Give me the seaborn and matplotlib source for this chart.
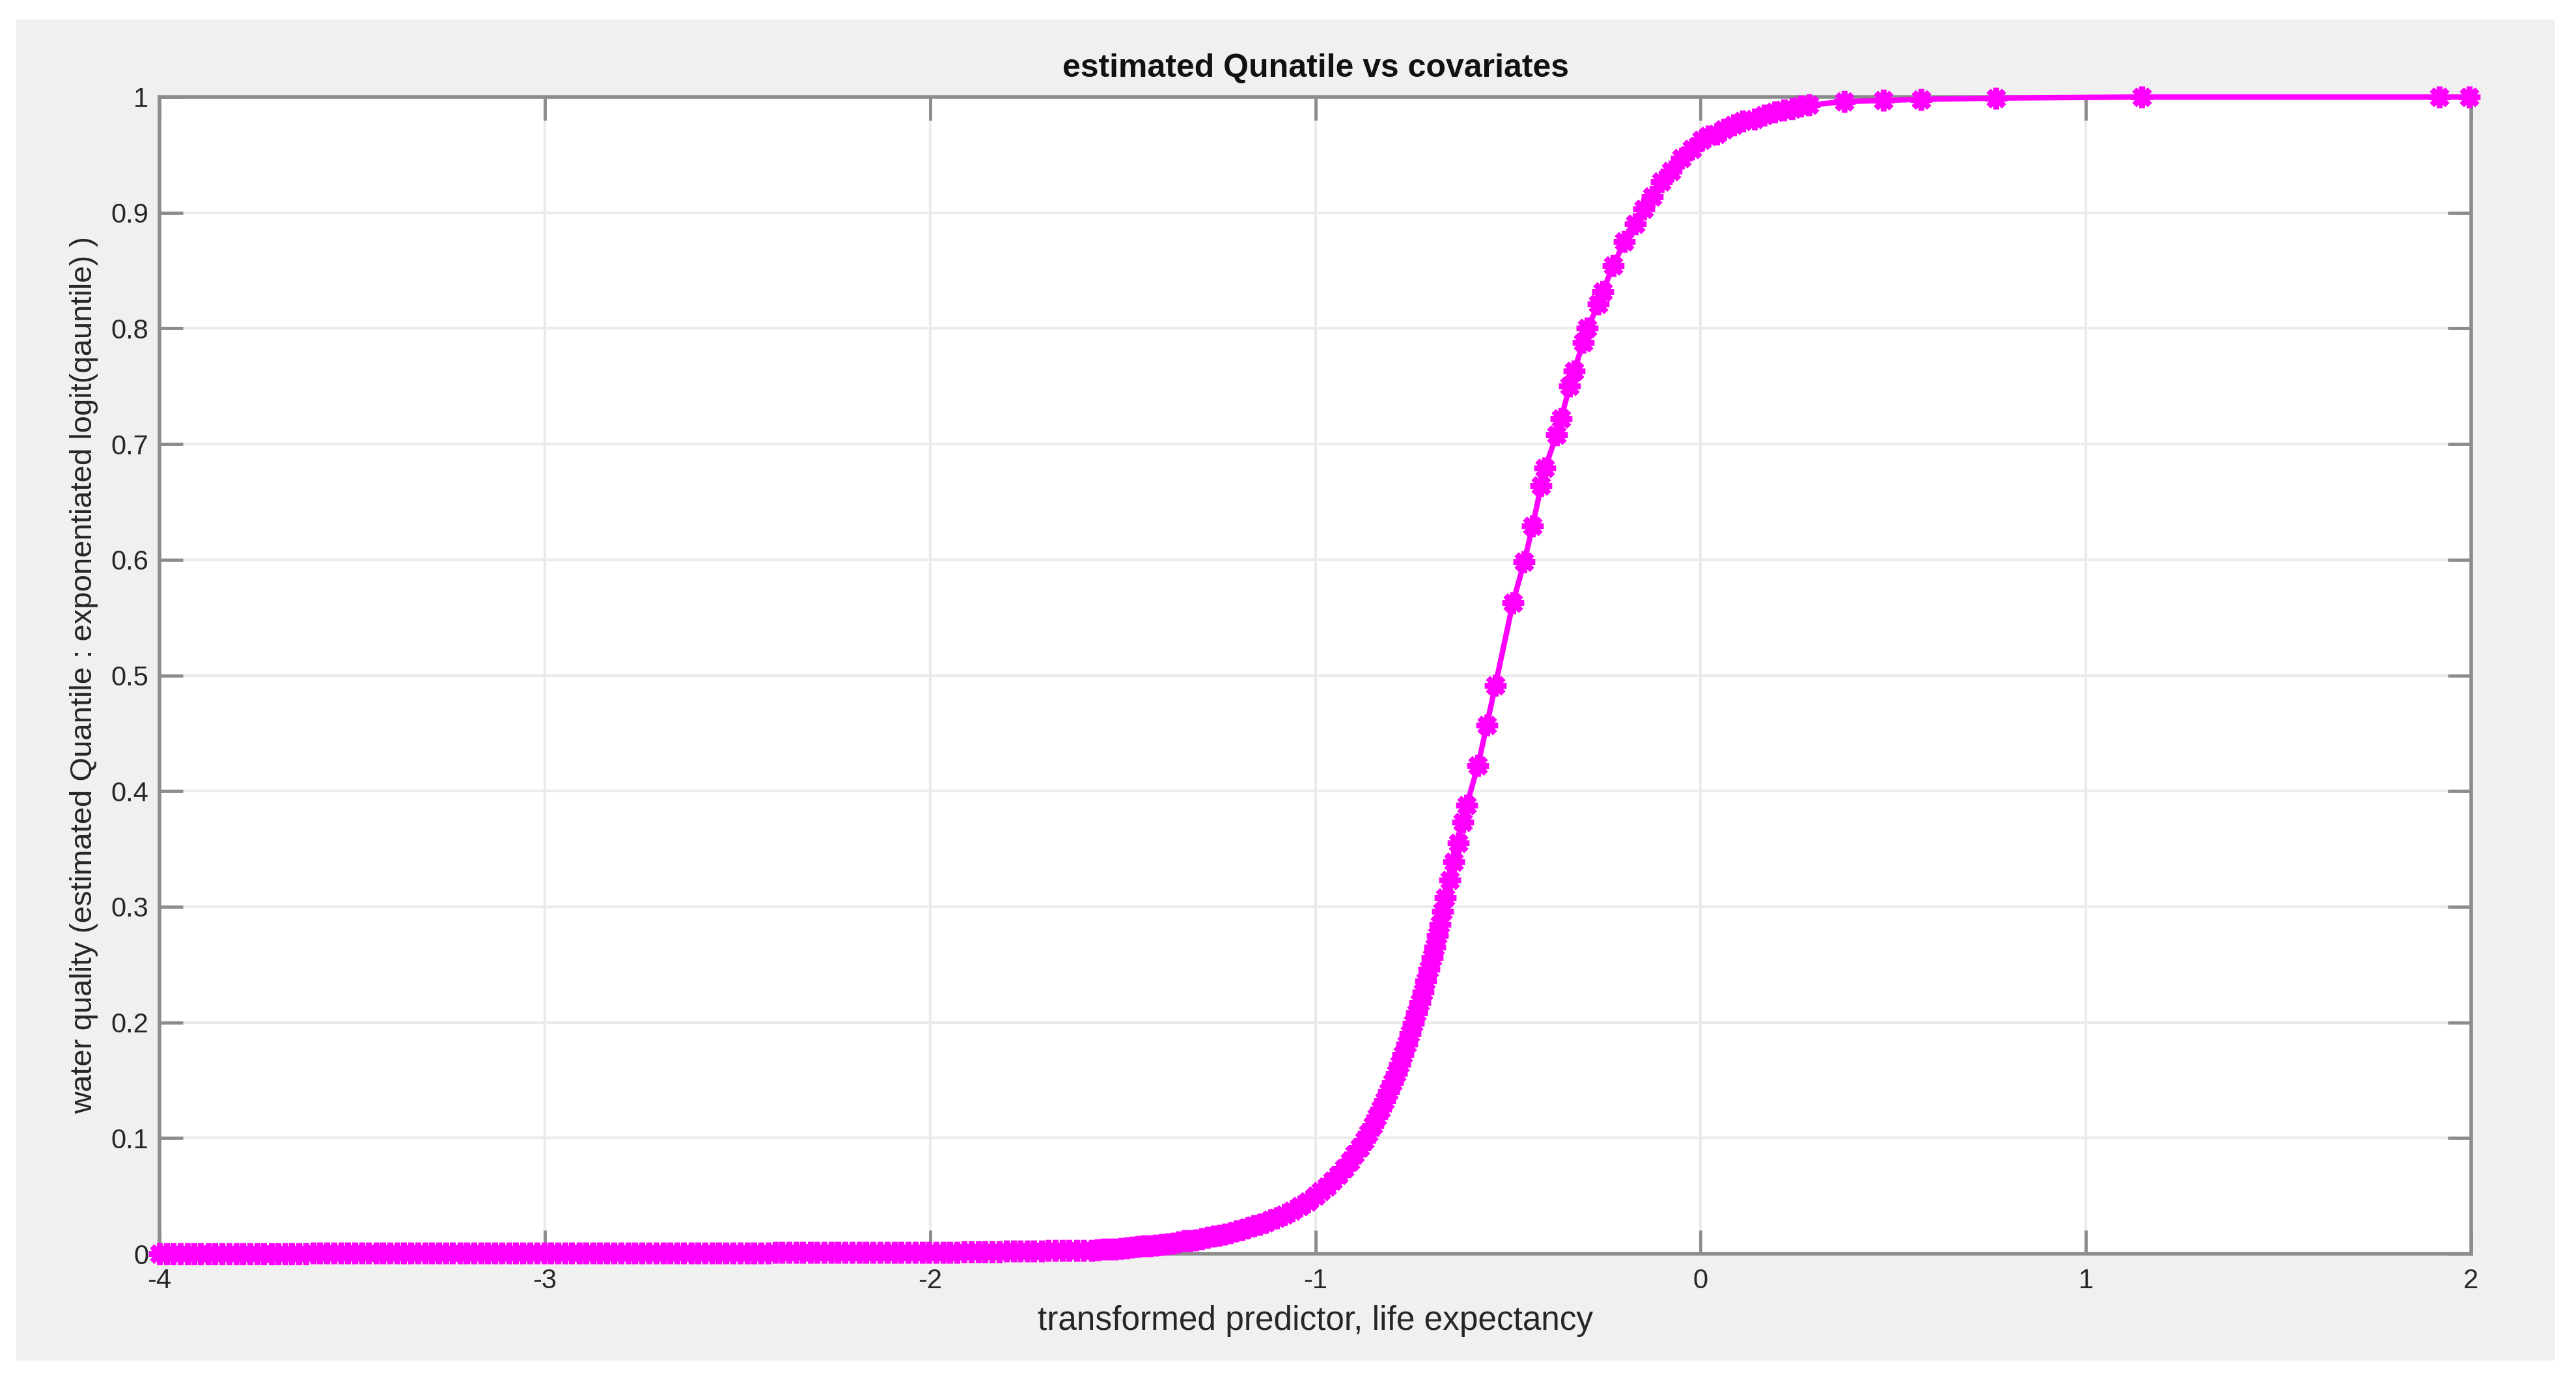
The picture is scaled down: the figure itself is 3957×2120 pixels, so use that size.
import matplotlib
matplotlib.use("Agg")
import matplotlib.pyplot as plt
from matplotlib.patches import Rectangle
import seaborn as sns

# values (sorted by predictor)
x_flat = [-4.00, -3.982, -3.965, -3.946, -3.928, -3.91, -3.893, -3.874, -3.856, -3.838,
          -3.82, -3.801, -3.784, -3.765, -3.747, -3.729, -3.71, -3.693, -3.674, -3.657,
          -3.638, -3.62, -3.602, -3.584, -3.565, -3.548, -3.529, -3.511, -3.493, -3.475,
          -3.457, -3.438, -3.42, -3.402, -3.384, -3.366, -3.347, -3.33, -3.311, -3.293,
          -3.275, -3.257, -3.239, -3.22, -3.202, -3.184, -3.166, -3.148, -3.13, -3.111,
          -3.093, -3.075, -3.057, -3.039, -3.02, -3.002, -2.984, -2.966, -2.948, -2.93,
          -2.911, -2.893, -2.875, -2.857, -2.839, -2.82, -2.802, -2.784, -2.766, -2.748,
          -2.73, -2.711, -2.693, -2.675, -2.657, -2.639, -2.62, -2.602, -2.584, -2.566,
          -2.548, -2.53, -2.511, -2.493, -2.475, -2.457, -2.439, -2.42, -2.402, -2.384,
          -2.366, -2.348, -2.33, -2.311, -2.293, -2.275, -2.257, -2.239, -2.22, -2.202,
          -2.184, -2.166, -2.148, -2.13, -2.111, -2.093, -2.075, -2.057, -2.039, -2.02,
          -2.002, -1.984, -1.966, -1.948, -1.93, -1.911, -1.893, -1.875, -1.857, -1.839,
          -1.82, -1.802, -1.784, -1.766, -1.748, -1.73, -1.711, -1.693, -1.675, -1.657,
          -1.639, -1.62, -1.602]
y_flat = [0.0] * 22 + [0.0005] * 66 + [0.001] * 22 + [
          0.0011, 0.0012, 0.0012, 0.0013, 0.0014, 0.0015, 0.0015, 0.0016, 0.0017, 0.0018,
          0.0019, 0.002, 0.0021, 0.0022, 0.0023, 0.0024, 0.0025, 0.0026, 0.0027, 0.0028,
          0.0029, 0.003, 0.003]

x_rise = [-1.58, -1.565, -1.55, -1.535, -1.52, -1.505, -1.49, -1.475, -1.46, -1.445,
          -1.43, -1.415, -1.40, -1.385, -1.37, -1.355, -1.34, -1.325, -1.31, -1.295,
          -1.28, -1.265, -1.25, -1.235, -1.22, -1.205, -1.19, -1.175, -1.16, -1.145,
          -1.13, -1.115, -1.10, -1.08, -1.06, -1.04,
          -1.02, -1.00, -0.985, -0.970, -0.955, -0.940, -0.925, -0.910, -0.897, -0.885,
          -0.873, -0.862, -0.851, -0.840, -0.830, -0.820, -0.810, -0.800, -0.790, -0.781,
          -0.772, -0.763, -0.754, -0.745, -0.737, -0.729, -0.721, -0.713, -0.705, -0.697,
          -0.690, -0.683, -0.676, -0.669, -0.663, -0.651, -0.641, -0.629, -0.617, -0.607]
y_rise = [0.003, 0.0035, 0.004, 0.004, 0.004, 0.0045, 0.005, 0.0055, 0.006, 0.0065,
          0.007, 0.0075, 0.008, 0.0085, 0.009, 0.010, 0.011, 0.0115, 0.012, 0.013,
          0.014, 0.015, 0.016, 0.017, 0.018, 0.0195, 0.021, 0.0225, 0.024, 0.0255,
          0.027, 0.029, 0.031, 0.034, 0.037, 0.041,
          0.045, 0.050, 0.054, 0.058, 0.063, 0.068, 0.074, 0.080, 0.086, 0.092,
          0.098, 0.104, 0.111, 0.118, 0.125, 0.132, 0.140, 0.148, 0.156, 0.164,
          0.172, 0.181, 0.190, 0.199, 0.208, 0.217, 0.226, 0.236, 0.246, 0.256,
          0.265, 0.275, 0.285, 0.296, 0.308, 0.323, 0.339, 0.355, 0.373, 0.388]

x_top = [-0.578, -0.555, -0.533, -0.487, -0.458, -0.436, -0.414, -0.404, -0.374, -0.362,
         -0.340, -0.328, -0.305, -0.294, -0.265, -0.254, -0.227, -0.198, -0.169, -0.147,
         -0.125, -0.102, -0.076, -0.049, -0.022, 0.003, 0.020, 0.042, 0.060, 0.086,
         0.110, 0.140, 0.165, 0.192, 0.215, 0.238, 0.260, 0.282, 0.373, 0.475,
         0.573, 0.767, 1.145, 1.917, 1.995]
y_top = [0.422, 0.457, 0.491, 0.563, 0.598, 0.629, 0.664, 0.679, 0.708, 0.722,
         0.750, 0.763, 0.788, 0.800, 0.821, 0.832, 0.854, 0.875, 0.890, 0.903,
         0.914, 0.927, 0.936, 0.947, 0.955, 0.963, 0.966, 0.968, 0.972, 0.976,
         0.979, 0.981, 0.984, 0.987, 0.989, 0.990, 0.992, 0.993, 0.996, 0.997,
         0.998, 0.999, 1.000, 1.000, 1.000]

predictor = x_flat + x_rise + x_top
quantile = y_flat + y_rise + y_top

x_ticks = [-4, -3, -2, -1, 0, 1, 2]
y_ticks = [0, 0.1, 0.2, 0.3, 0.4, 0.5, 0.6, 0.7, 0.8, 0.9, 1]
y_ticklabels = ["0", "0.1", "0.2", "0.3", "0.4", "0.5", "0.6", "0.7", "0.8", "0.9", "1"]

plt.rcParams["font.family"] = ["Liberation Sans", "DejaVu Sans"]
plt.rcParams["axes.unicode_minus"] = False

W, H = 3957, 2120
fig = plt.figure(figsize=(W / 100, H / 100), dpi=100, facecolor="white")
# grey figure panel like matlab
fig.patches.append(Rectangle((25 / W, 1 - 2090 / H), 3900 / W, 2060 / H,
                             transform=fig.transFigure, facecolor="#f0f0f0",
                             edgecolor="none", zorder=-10))

ax = fig.add_axes([245 / W, 1 - 1926 / H, (3796 - 245) / W, (1926 - 149) / H])
ax.set_facecolor("white")

sns.lineplot(x=predictor, y=quantile, ax=ax, sort=False, estimator=None,
             color="#ff00ff", linewidth=6, marker=(8, 2, 0), markersize=24,
             markeredgewidth=6.5, markeredgecolor="#ff00ff", clip_on=False, zorder=3)

ax.set_xlim(-4, 2)
ax.set_ylim(0, 1)
ax.set_xticks(x_ticks)
ax.set_xticklabels([str(t) for t in x_ticks])
ax.set_yticks(y_ticks)
ax.set_yticklabels(y_ticklabels)

ax.grid(True, color="#ebebeb", linewidth=3)
ax.set_axisbelow(True)
for s in ax.spines.values():
    s.set_color("#8c8c8c")
    s.set_linewidth(4)
ax.tick_params(direction="in", length=26, width=3.5, color="#8c8c8c",
               top=True, right=True, labelsize=30, labelcolor="#262626")
ax.tick_params(axis="x", pad=16)
ax.tick_params(axis="y", pad=12)

ax.set_title("estimated Qunatile vs covariates", fontsize=36, fontweight="bold",
             color="#111111", pad=22)
ax.set_xlabel("transformed predictor, life expectancy", fontsize=37,
              color="#262626", labelpad=12)
ax.set_ylabel("water quality (estimated Quantile : exponentiated logit(qauntile) )",
              fontsize=34, color="#262626", labelpad=14)

fig.savefig("out.png", dpi=100, facecolor="white")
